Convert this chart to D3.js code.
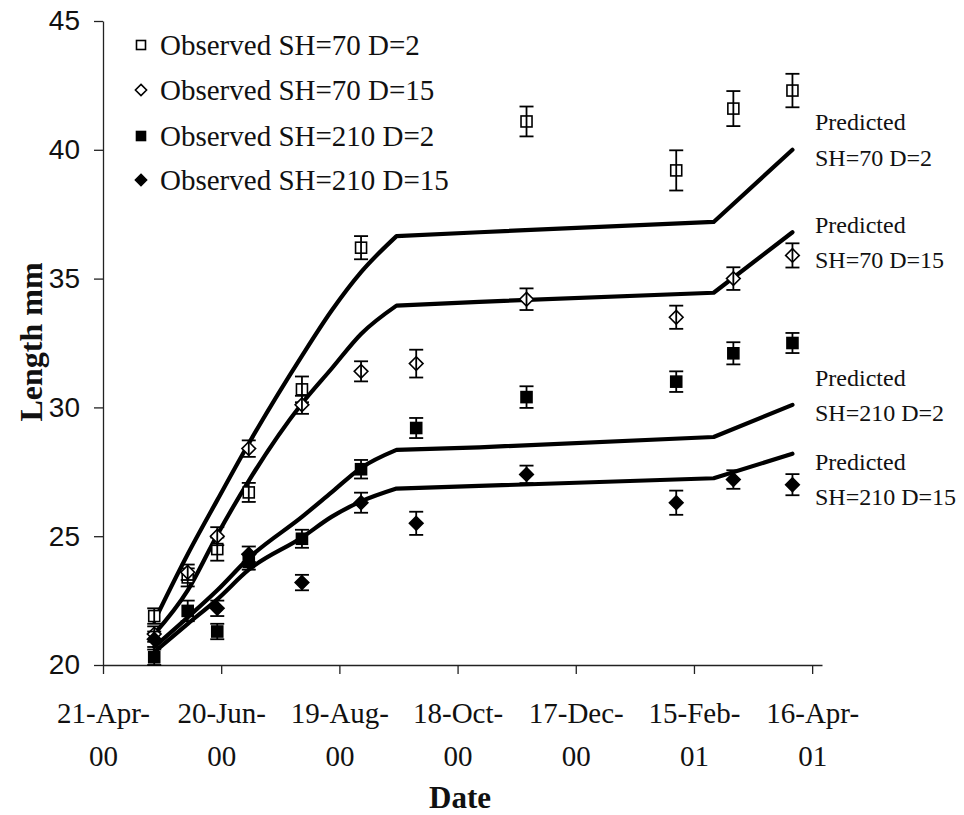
<!DOCTYPE html>
<html>
<head>
<meta charset="utf-8">
<script src="https://cdn.jsdelivr.net/npm/d3@7"></script>
<style>
  body { margin: 0; background: #fff; }
  svg { display: block; }
</style>
</head>
<body>
<svg id="chart" width="964" height="815"></svg>
<script>
// Sampling dates of the observed lengths
const sampleDates = ["2000-05-17", "2000-06-03", "2000-06-18", "2000-07-04", "2000-07-31",
  "2000-08-30", "2000-09-27", "2000-11-22", "2001-02-06", "2001-03-07", "2001-04-06"];

// Observed mean length (mm) and standard error, per treatment (null = not sampled)
const obsSH70D2   = [21.9, 23.4, 24.5, 26.7, 30.7, 36.2, null, 41.1, 39.2, 41.6, 42.3];
const errSH70D2   = [0.30, 0.35, 0.45, 0.37, 0.50, 0.45, null, 0.58, 0.78, 0.68, 0.65];
const obsSH70D15  = [21.2, 23.6, 25.0, 28.4, 30.1, 31.4, 31.7, 34.2, 33.5, 35.0, 35.9];
const errSH70D15  = [0.30, 0.30, 0.35, 0.32, 0.35, 0.39, 0.54, 0.42, 0.45, 0.44, 0.47];
const obsSH210D2  = [20.3, 22.1, 21.3, 24.0, 24.9, 27.6, 29.2, 30.4, 31.0, 32.1, 32.5];
const errSH210D2  = [0.30, 0.40, 0.30, 0.30, 0.35, 0.36, 0.39, 0.42, 0.40, 0.43, 0.39];
const obsSH210D15 = [21.0, null, 22.2, 24.3, 23.2, 26.3, 25.5, 27.4, 26.3, 27.2, 27.0];
const errSH210D15 = [0.30, null, 0.30, 0.30, 0.30, 0.39, 0.45, 0.34, 0.47, 0.36, 0.41];

// Model predictions: growth phase up to mid-September, then plateau and spring growth
const predDates = ["2000-05-17", "2000-06-03", "2000-06-18", "2000-07-04", "2000-07-31",
  "2000-08-15", "2000-08-30", "2000-09-17", "2000-10-29", "2001-02-25", "2001-04-06"];
const predSH70D2   = [21.7, 24.3, 26.4, 28.6, 32.0, 33.75, 35.25, 36.65, 36.8, 37.2, 40.0];
const predSH70D15  = [21.2, 22.9, 25.05, 27.15, 30.15, 31.5, 32.85, 33.95, 34.1, 34.45, 36.8];
const predSH210D2  = [20.7, 21.85, 22.9, 24.15, 25.75, 26.7, 27.65, 28.35, 28.45, 28.85, 30.1];
const predSH210D15 = [20.5, 21.6, 22.55, 23.7, 24.95, 25.75, 26.35, 26.85, 26.95, 27.25, 28.2];
const growthEnd = 7; // index of the end of the summer growth phase

// Axis ticks
const xDomain = ["2000-04-21", "2001-04-21"];
const xTickDates = ["2000-04-21", "2000-06-20", "2000-08-19", "2000-10-18",
  "2000-12-17", "2001-02-15", "2001-04-16"];
const xTickLabels = [["21-Apr-", "00"], ["20-Jun-", "00"], ["19-Aug-", "00"], ["18-Oct-", "00"],
  ["17-Dec-", "00"], ["15-Feb-", "01"], ["16-Apr-", "01"]];
const yTicks = [20, 25, 30, 35, 40, 45];

const legendLabels = ["Observed SH=70 D=2", "Observed SH=70 D=15",
  "Observed SH=210 D=2", "Observed SH=210 D=15"];
const predictedLabels = [["Predicted", "SH=70 D=2"], ["Predicted", "SH=70 D=15"],
  ["Predicted", "SH=210 D=2"], ["Predicted", "SH=210 D=15"]];

const parse = d3.timeParse("%Y-%m-%d");
const serif = "'Liberation Serif', 'Times New Roman', serif";
const sans = "'Liberation Sans', Arial, sans-serif";

const svg = d3.select("#chart");
const plotLeft = 103, plotRight = 822, plotTop = 21, plotBottom = 665;

const x = d3.scaleTime().domain(xDomain.map(parse)).range([plotLeft, plotRight]);
const y = d3.scaleLinear().domain([20, 45]).range([plotBottom, plotTop]);

// ---- axes ----
const yAxis = svg.append("g")
  .attr("transform", `translate(${plotLeft},0)`)
  .call(d3.axisLeft(y).tickValues(yTicks).tickSize(9).tickSizeOuter(0).tickPadding(14));
yAxis.selectAll("text").attr("font-family", sans).attr("font-size", 28).attr("fill", "#111");

const xAxis = svg.append("g")
  .attr("transform", `translate(0,${plotBottom})`)
  .call(d3.axisBottom(x).tickValues(xTickDates.map(parse)).tickSize(9).tickSizeOuter(0).tickFormat(""));
xAxis.selectAll(".tick").each(function(d, i) {
  const t = d3.select(this).append("text")
    .attr("fill", "#111").attr("font-family", serif).attr("font-size", 29)
    .attr("text-anchor", "middle");
  t.append("tspan").attr("x", 0).attr("y", 58).text(xTickLabels[i][0]);
  t.append("tspan").attr("x", 0).attr("y", 101).text(xTickLabels[i][1]);
});
svg.selectAll(".domain, .tick line").attr("stroke", "#222").attr("stroke-width", 1.3);

// axis titles
svg.append("text")
  .attr("transform", "translate(42,342) rotate(-90)")
  .attr("text-anchor", "middle")
  .attr("font-family", serif).attr("font-weight", "bold").attr("font-size", 32)
  .attr("fill", "#111")
  .text("Length mm");
svg.append("text")
  .attr("x", 460).attr("y", 808)
  .attr("text-anchor", "middle")
  .attr("font-family", serif).attr("font-weight", "bold").attr("font-size", 31)
  .attr("fill", "#111")
  .text("Date");

// ---- predicted lines: smooth growth curve, then straight plateau/spring segments ----
const smoothLine = d3.line().x(d => x(d.date)).y(d => y(d.v)).curve(d3.curveMonotoneX);
const straightLine = d3.line().x(d => x(d.date)).y(d => y(d.v));
[predSH70D2, predSH70D15, predSH210D2, predSH210D15].forEach(vals => {
  const pts = vals.map((v, i) => ({ date: parse(predDates[i]), v }));
  const d = smoothLine(pts.slice(0, growthEnd + 1)) + straightLine(pts.slice(growthEnd)).replace(/^M/, "L");
  svg.append("path")
    .attr("d", d)
    .attr("fill", "none")
    .attr("stroke", "#000")
    .attr("stroke-width", 4.2)
    .attr("stroke-linejoin", "round")
    .attr("stroke-linecap", "round");
});

// predicted labels
const predLabelY = [[130, 166], [233, 268], [386, 421], [470, 505]];
predictedLabels.forEach((lines, i) => {
  lines.forEach((s, j) => {
    svg.append("text")
      .attr("x", 815).attr("y", predLabelY[i][j])
      .attr("font-family", serif).attr("font-size", 24).attr("fill", "#111")
      .text(s);
  });
});

// ---- markers ----
function drawMarker(g, kind, cx, cy, s) {
  if (kind === "square" || kind === "squareFilled") {
    g.append("rect")
      .attr("x", cx - s / 2).attr("y", cy - s / 2).attr("width", s).attr("height", s)
      .attr("fill", kind === "squareFilled" ? "#000" : "#fff")
      .attr("stroke", "#000").attr("stroke-width", 1.6);
  } else {
    const r = s * 0.62;
    g.append("path")
      .attr("d", `M${cx},${cy - r}L${cx + r},${cy}L${cx},${cy + r}L${cx - r},${cy}Z`)
      .attr("fill", kind === "diamondFilled" ? "#000" : "#fff")
      .attr("stroke", "#000").attr("stroke-width", 1.6);
  }
}

const observed = [
  { vals: obsSH70D2, errs: errSH70D2, kind: "square" },
  { vals: obsSH70D15, errs: errSH70D15, kind: "diamond" },
  { vals: obsSH210D2, errs: errSH210D2, kind: "squareFilled" },
  { vals: obsSH210D15, errs: errSH210D15, kind: "diamondFilled" }
];

observed.forEach(s => {
  const g = svg.append("g");
  s.vals.forEach((v, i) => {
    if (v == null) return;
    const cx = x(parse(sampleDates[i]));
    drawMarker(g, s.kind, cx, y(v), 11);
    const e = s.errs[i];
    const y1 = y(v + e), y2 = y(v - e);
    g.append("line").attr("x1", cx).attr("x2", cx).attr("y1", y1).attr("y2", y2)
      .attr("stroke", "#000").attr("stroke-width", 1.8);
    [y1, y2].forEach(yy => g.append("line")
      .attr("x1", cx - 7).attr("x2", cx + 7).attr("y1", yy).attr("y2", yy)
      .attr("stroke", "#000").attr("stroke-width", 1.8));
  });
});

// ---- legend ----
const legendY = [45, 90, 136, 180];
observed.forEach((s, i) => {
  const g = svg.append("g");
  drawMarker(g, s.kind, 141, legendY[i], 9);
  g.append("text")
    .attr("x", 160).attr("y", legendY[i] + 10)
    .attr("font-family", serif).attr("font-size", 29).attr("fill", "#111")
    .text(legendLabels[i]);
});
</script>
</body>
</html>
